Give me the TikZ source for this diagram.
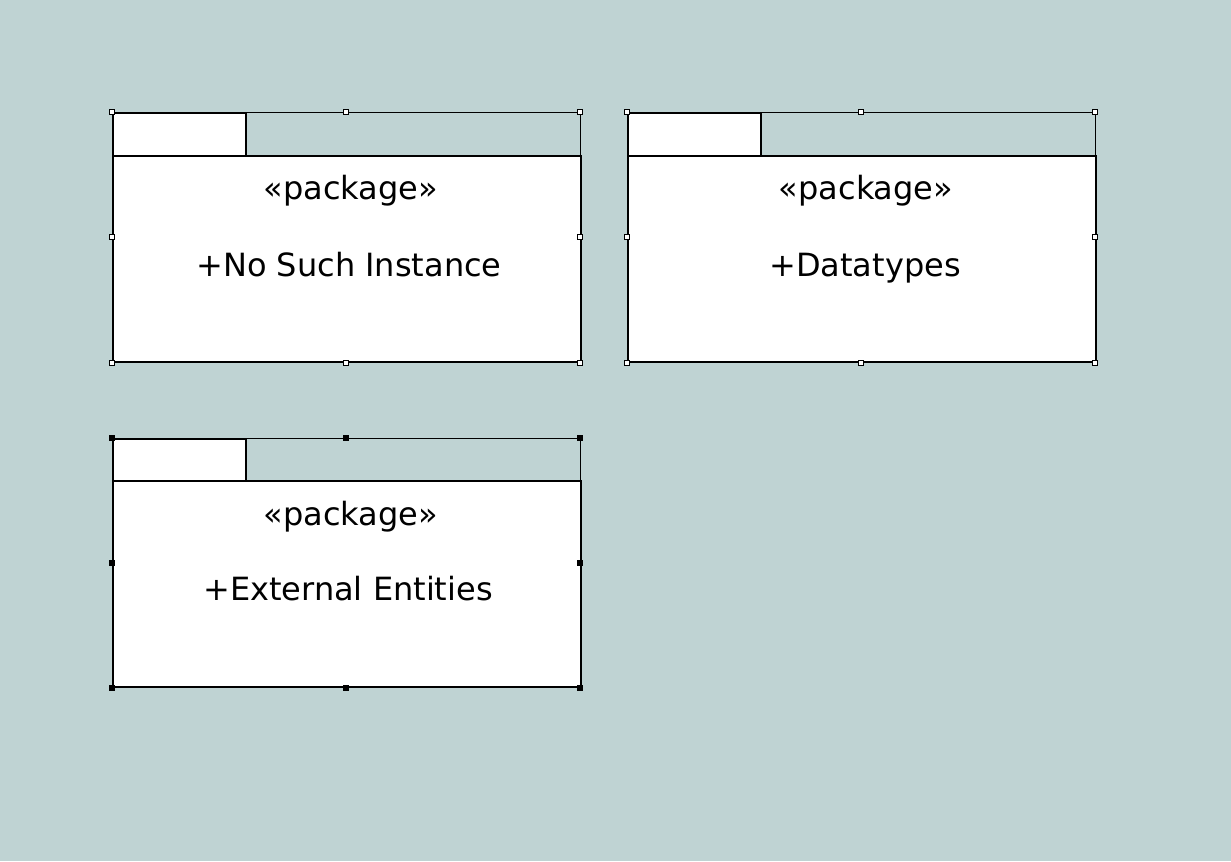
\documentclass[tikz,border=0pt]{standalone}
\usepackage{fontspec}
\setmainfont{DejaVu Sans}
\begin{document}
\definecolor{canvas}{RGB}{191,211,211}
\tikzset{
  body/.style={draw=black, fill=white, line width=1.5pt, inner sep=0pt, minimum width=468*0.75pt, minimum height=206*0.75pt, anchor=south west},
  tab/.style={draw=black, fill=white, line width=1.5pt, inner sep=0pt, minimum width=133*0.75pt, minimum height=45*0.75pt, anchor=north west},
  frame/.style={draw=black, line width=0.75pt},
  handle/.style={draw=black, fill=white, line width=0.5pt, minimum size=5*0.75pt, inner sep=0pt},
  handlesel/.style={handle, fill=black},
  stereo/.style={font=\fontsize{24}{28}\selectfont, inner sep=0pt, anchor=base},
  pname/.style={font=\fontsize{24}{28}\selectfont, inner sep=0pt, anchor=base},
}
% px units, y pointing down
\begin{tikzpicture}[x=0.75pt, y=-0.75pt]
\useasboundingbox[fill=canvas] (0,0) rectangle (1231,861);

% package 1
\draw[frame] (112,112) rectangle (580,157);
\node[tab] (t1) at (112,112) {};
\node[body] (b1) at (112,363) {};
\node[stereo] (s1) at (351,199) {«package»};
\node[pname] (n1) at (349,276) {+No Such Instance};
\foreach \p in {(112,112),(346,112),(580,112),(112,237),(580,237),(112,363),(346,363),(580,363)}
  \node[handle] at \p {};

% package 2
\draw[frame] (627,112) rectangle (1095,157);
\node[tab] (t2) at (627,112) {};
\node[body] (b2) at (627,363) {};
\node[stereo] (s2) at (866,199) {«package»};
\node[pname] (n2) at (865,276) {+Datatypes};
\foreach \p in {(627,112),(861,112),(1095,112),(627,237),(1095,237),(627,363),(861,363),(1095,363)}
  \node[handle] at \p {};

% package 3
\draw[frame] (112,438) rectangle (580,483);
\node[tab] (t3) at (112,438) {};
\node[body] (b3) at (112,688) {};
\node[stereo] (s3) at (351,525) {«package»};
\node[pname] (n3) at (348,600) {+External Entities};
\foreach \p in {(112,438),(346,438),(580,438),(112,563),(580,563),(112,688),(346,688),(580,688)}
  \node[handlesel] at \p {};
\end{tikzpicture}
\end{document}
